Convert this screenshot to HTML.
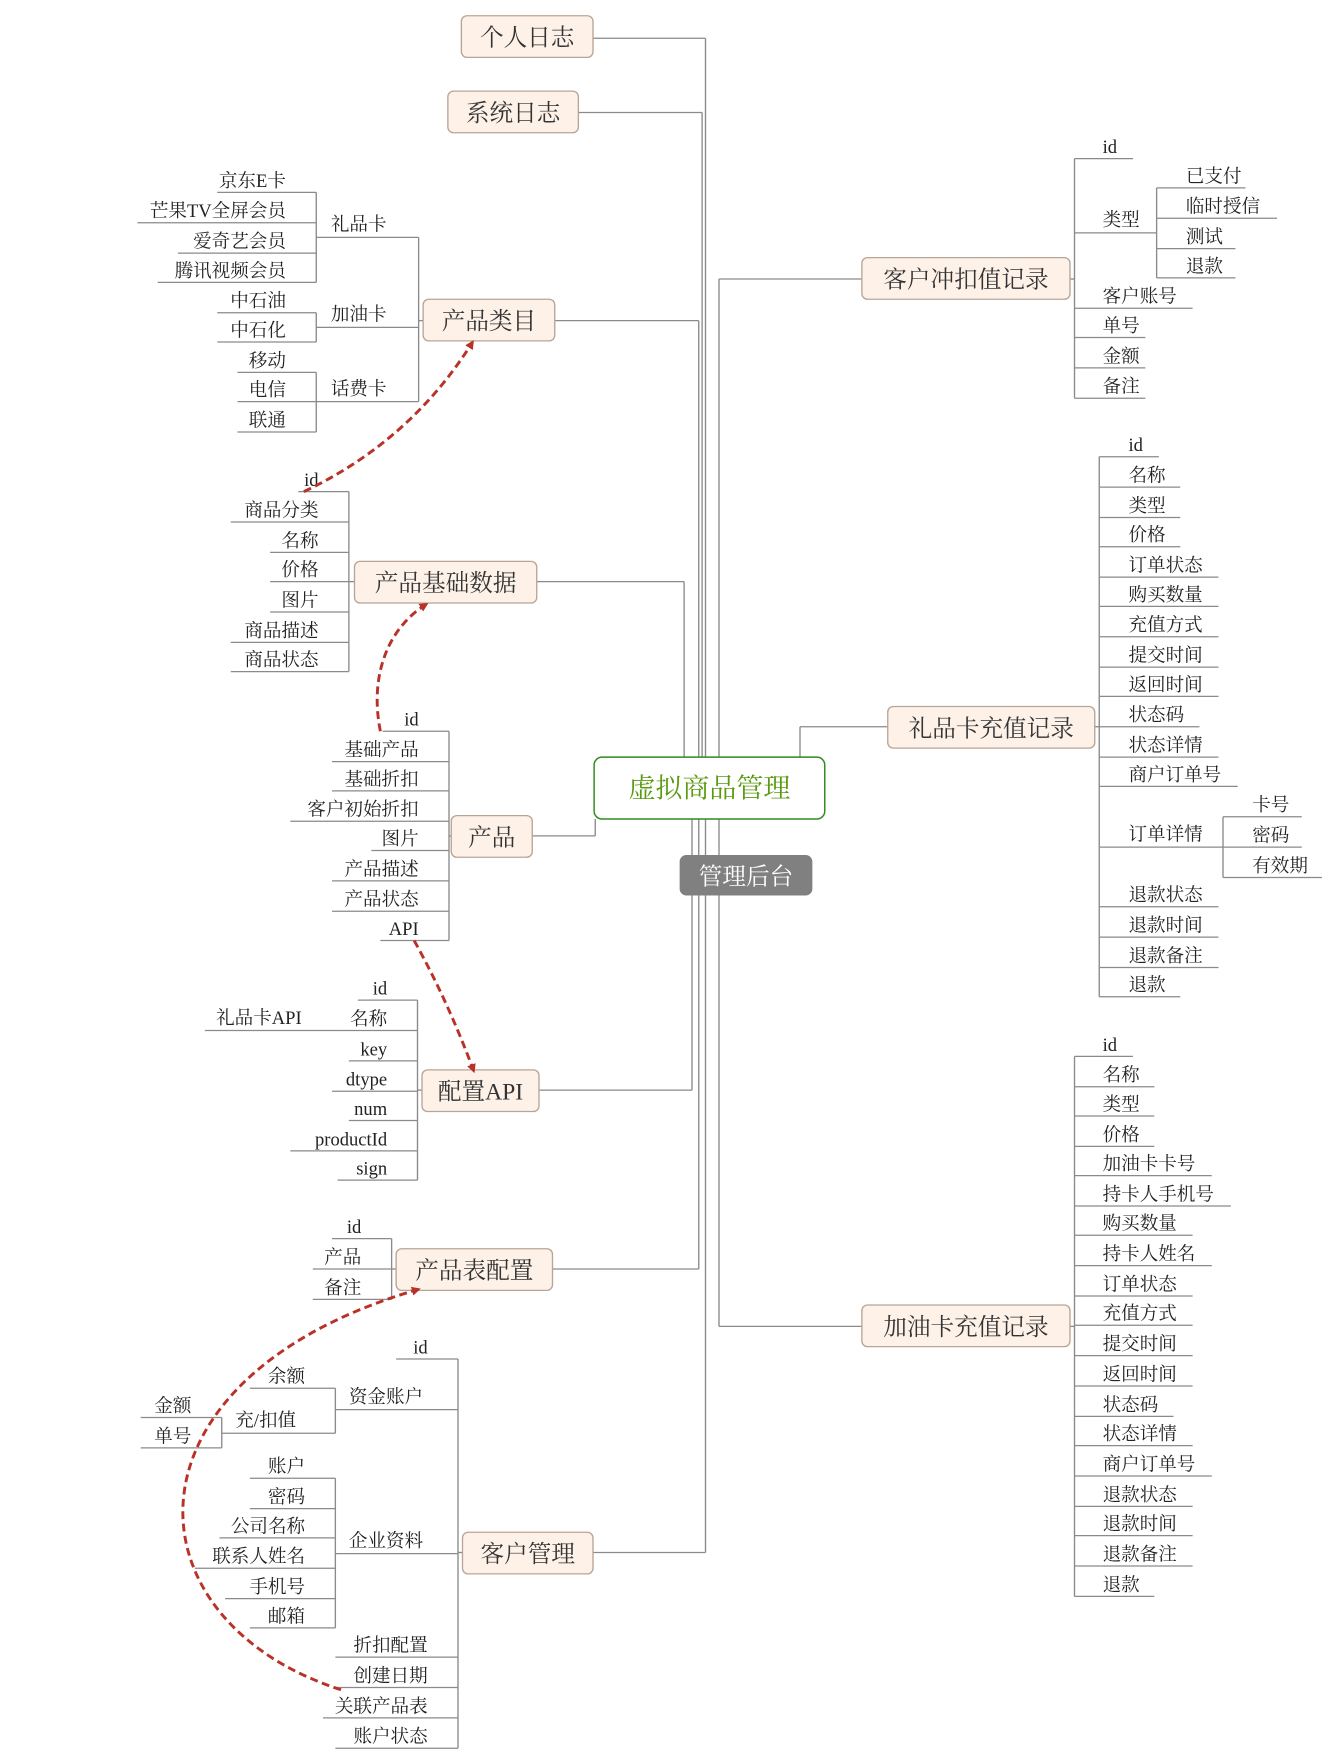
<!DOCTYPE html>
<html><head><meta charset="utf-8">
<style>
html,body{margin:0;padding:0;background:#fff;width:1339px;height:1764px;overflow:hidden}
svg{display:block}
text{font-family:"Liberation Serif","Noto Serif CJK SC",serif}
#txt text{fill:#222}
</style></head>
<body>
<svg id="s" width="1339" height="1764" viewBox="0 0 1190 1568" xmlns="http://www.w3.org/2000/svg">
<defs>
<marker id="ah" markerWidth="8" markerHeight="8" refX="6" refY="4" orient="auto" markerUnits="userSpaceOnUse">
<path d="M0,0 L8,4 L0,8 Z" fill="#b83228"/>
</marker>
</defs>
<g id="lines" stroke="#8a8a8a" stroke-width="1.2" fill="none"></g>
<g id="nodes"></g>
<g id="txt" font-size="16.5"></g>
<g fill="none" stroke="#b83228" stroke-width="2.6" stroke-dasharray="7,4">
<path d="M270,437 Q365,392 420,304" marker-end="url(#ah)"/>
<path d="M338,650 C328,600 345,558 379,537" marker-end="url(#ah)"/>
<path d="M368,836 Q398,890 421,952" marker-end="url(#ah)"/>
<path d="M303,1502 C110,1440 100,1225 372,1146" marker-end="url(#ah)"/>
</g>
</svg>
<script>
var NS="http://www.w3.org/2000/svg";
var G=document.getElementById('lines'),T=document.getElementById('txt'),N=document.getElementById('nodes');
function el(p,tag,a,t){var e=document.createElementNS(NS,tag);for(var k in a)e.setAttribute(k,a[k]);if(t!=null)e.textContent=t;p.appendChild(e);return e;}
function ln(x1,y1,x2,y2){el(G,'line',{x1:x1,y1:y1,x2:x2,y2:y2});}
function tw(s){var w=0;for(var i=0;i<s.length;i++)w+=s.charCodeAt(i)<128?8.5:17;return w;}
function L(s,y,x1,bx){ln(x1,y,bx,y);el(T,'text',{x:bx-27,y:y-5,'text-anchor':'end'},s);}
function R(s,y,bx,tx,x2){var e=x2||tx+tw(s)+12;ln(bx,y,e,y);el(T,'text',{x:tx,y:y-5},s);}
function B(x,y1,y2){ln(x,y1,x,y2);}
function lab(s,x,y){el(T,'text',{x:x,y:y},s);}
function node(s,x1,y1,x2,y2){el(N,'rect',{x:x1,y:y1,width:x2-x1,height:y2-y1,rx:5,fill:'#fdf1e8',stroke:'#b9a596','stroke-width':1.2});el(N,'text',{x:(x1+x2)/2,y:(y1+y2)/2+8,'text-anchor':'middle','font-size':21,style:'fill:#333'},s);}

ln(527,34,627,34);ln(627,34,627,1380);
ln(514,100,624,100);ln(624,100,624,673);
ln(493,285,621,285);ln(621,285,621,1128);
ln(477,517,608,517);ln(608,517,608,673);
ln(473,743,529,743);ln(529,743,529,728);
ln(479,969,615,969);ln(615,728,615,969);
ln(491,1128,621,1128);
ln(527,1380,627,1380);
ln(639,248,639,1179);ln(639,248,766,248);ln(639,1179,766,1179);
ln(711,673,711,646);ln(711,646,789,646);

node('个人日志',410,14,527,51);
node('系统日志',398,81,514,118);
node('产品类目',376,266,493,303);
node('产品基础数据',315,499,477,536);
node('产品',401,725,473,762);
node('配置API',375,951,479,988);
node('产品表配置',352,1110,491,1147);
node('客户管理',411,1362,527,1399);
node('客户冲扣值记录',766,229,951,266);
node('礼品卡充值记录',789,628,973,665);
node('加油卡充值记录',766,1160,951,1197);
el(N,'rect',{x:528,y:673,width:205,height:55,rx:7,fill:'#fff',stroke:'#2e8b1e','stroke-width':1.3});
el(N,'text',{x:630.5,y:709,'text-anchor':'middle','font-size':24,style:'fill:#5a9a10'},'虚拟商品管理');
el(N,'rect',{x:604,y:760,width:118,height:36,rx:6,fill:'#808080'});
el(N,'text',{x:663,y:786,'text-anchor':'middle','font-size':21,style:'fill:#fff'},'管理后台');

B(372,211,357);ln(372,285,376,285);
ln(281,211,372,211);lab('礼品卡',294,205);
ln(281,291,372,291);lab('加油卡',294,285);
ln(281,357,372,357);lab('话费卡',294,351);
B(281,171,251);
L('京东E卡',171,193,281);L('芒果TV全屏会员',198,122,281);L('爱奇艺会员',225,158,281);L('腾讯视频会员',251,140,281);
B(281,278,304);
L('中石油',278,193,281);L('中石化',304,193,281);
B(281,331,384);
L('移动',331,211,281);L('电信',357,211,281);L('联通',384,211,281);

B(310,437,597);ln(310,517,315,517);
L('id',437,265,310);L('商品分类',464,205,310);L('名称',491,240,310);L('价格',517,240,310);L('图片',544,240,310);L('商品描述',571,205,310);L('商品状态',597,205,310);

B(399,650,836);ln(399,743,401,743);
L('id',650,340,399);L('基础产品',677,295,399);L('基础折扣',703,295,399);L('客户初始折扣',730,258,399);L('图片',756,330,399);L('产品描述',783,295,399);L('产品状态',810,295,399);L('API',836,338,399);

B(371,889,1049);ln(371,969,375,969);
L('id',889,318,371);L('名称',916,300,371);ln(182,916,300,916);lab('礼品卡API',192,910);
L('key',943,310,371);L('dtype',970,295,371);L('num',996,310,371);L('productId',1023,258,371);L('sign',1049,300,371);

B(348,1101,1155);ln(348,1128,352,1128);
L('id',1101,295,348);L('产品',1128,278,348);L('备注',1155,278,348);

B(407,1208,1554);ln(407,1380,411,1380);
L('id',1208,352,407);
ln(298,1253,407,1253);lab('资金账户',310,1247);
ln(298,1381,407,1381);lab('企业资料',310,1375);
L('折扣配置',1473,298,407);L('创建日期',1500,298,407);L('关联产品表',1527,287,407);L('账户状态',1554,298,407);
B(298,1234,1274);
L('余额',1234,222,298);ln(197,1274,298,1274);lab('充/扣值',209,1268);
B(197,1260,1287);
L('金额',1260,125,197);L('单号',1287,125,197);
B(298,1314,1447);
L('账户',1314,222,298);L('密码',1341,222,298);L('公司名称',1367,195,298);L('联系人姓名',1394,173,298);L('手机号',1421,200,298);L('邮箱',1447,222,298);

B(955,141,354);ln(951,248,955,248);
R('id',141,955,980,1007);
ln(955,207,1028,207);lab('类型',980,201);
R('客户账号',274,955,980,1060);R('单号',300,955,980,1018);R('金额',327,955,980,1018);R('备注',354,955,980,1018);
B(1028,167,247);
R('已支付',167,1028,1054,1107);R('临时授信',194,1028,1054,1135);R('测试',221,1028,1054,1098);R('退款',247,1028,1054,1098);

B(977,406,886);ln(973,646,977,646);
R('id',406,977,1003,1030);
var g=[['名称',433],['类型',460],['价格',486],['订单状态',513],['购买数量',539],['充值方式',566],['提交时间',593],['返回时间',619],['状态码',646],['状态详情',673],['商户订单号',699]];
g.forEach(function(a){R(a[0],a[1],977,1003);});
ln(977,753,1087,753);lab('订单详情',1003,747);
[['退款状态',806],['退款时间',833],['退款备注',860],['退款',886]].forEach(function(a){R(a[0],a[1],977,1003);});
B(1087,726,780);
R('卡号',726,1087,1113,1157);R('密码',753,1087,1113,1157);R('有效期',780,1087,1113,1175);

B(955,939,1419);ln(951,1179,955,1179);
R('id',939,955,980,1007);
[['名称',966],['类型',992],['价格',1019],['加油卡卡号',1045],['持卡人手机号',1072],['购买数量',1098],['持卡人姓名',1125],['订单状态',1152],['充值方式',1178],['提交时间',1205],['返回时间',1232],['状态码',1259],['状态详情',1285],['商户订单号',1312],['退款状态',1339],['退款时间',1365],['退款备注',1392],['退款',1419]].forEach(function(a){R(a[0],a[1],955,980);});
</script>
</body></html>
